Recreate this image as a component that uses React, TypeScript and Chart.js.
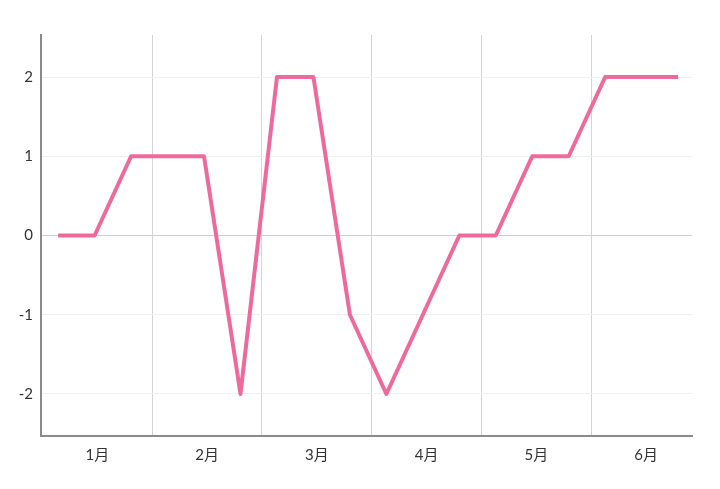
import React, { useEffect, useRef } from "react";
import { Chart, registerables } from "chart.js";

Chart.register(...registerables);

const monthLabels = ["1月", "2月", "3月", "4月", "5月", "6月"];
const seriesValues = [0, 0, 1, 1, 1, -2, 2, 2, -1, -2, -1, 0, 0, 1, 1, 2, 2, 2];
const yTickValues = [-2, -1, 0, 1, 2];

// band model for the month axis, in point-index units
const BAND_START = -0.43;
const BAND_WIDTH = 3.009;
const X_MIN = -0.47;
const X_MAX = 17.38;
const Y_MIN = -2.53;
const Y_MAX = 2.53;

const FONT = "Lato, 'Noto Sans CJK SC', sans-serif";

export default function App() {
  const ref = useRef<HTMLCanvasElement | null>(null);

  useEffect(() => {
    document.body.style.margin = "0";
    const canvas = ref.current;
    if (!canvas) return;

    const xTicks: { value: number }[] = [];
    monthLabels.forEach((_, i) => {
      xTicks.push({ value: BAND_START + BAND_WIDTH * (i + 0.5) });
      if (i < monthLabels.length - 1) xTicks.push({ value: BAND_START + BAND_WIDTH * (i + 1) });
    });

    const chart = new Chart(canvas, {
      type: "line",
      data: {
        datasets: [
          {
            data: seriesValues.map((v, i) => ({ x: i, y: v })),
            borderColor: "#ef6a9c",
            borderWidth: 4,
            borderJoinStyle: "round",
            pointRadius: 0,
            pointHoverRadius: 0,
            tension: 0,
            fill: false,
          },
        ],
      },
      options: {
        animation: false,
        responsive: false,
        events: [],
        layout: { padding: { left: 0, top: 35, right: 28, bottom: 0 } },
        plugins: { legend: { display: false }, tooltip: { enabled: false } },
        scales: {
          x: {
            type: "linear",
            min: X_MIN,
            max: X_MAX,
            afterBuildTicks: (axis: any) => {
              axis.ticks = xTicks.map((t) => ({ ...t }));
            },
            afterFit: (axis: any) => {
              axis.height = 53;
            },
            border: { color: "#8a8a8a", width: 2 },
            grid: {
              drawTicks: false,
              color: (ctx: any) => (ctx.index % 2 === 1 ? "#d4d4d4" : "rgba(0,0,0,0)"),
              lineWidth: 1,
            },
            ticks: {
              autoSkip: false,
              maxRotation: 0,
              padding: 10,
              color: "#333",
              font: { family: FONT, size: 15 },
              callback: (_v: any, index: number) =>
                index % 2 === 0 ? monthLabels[index / 2] : "",
            },
          },
          y: {
            type: "linear",
            min: Y_MIN,
            max: Y_MAX,
            afterBuildTicks: (axis: any) => {
              axis.ticks = yTickValues.map((v) => ({ value: v }));
            },
            afterFit: (axis: any) => {
              axis.width = 41;
            },
            border: { color: "#8a8a8a", width: 2 },
            grid: {
              drawTicks: false,
              color: (ctx: any) => (ctx.tick && ctx.tick.value === 0 ? "#cfcfcf" : "#f0f0f0"),
              lineWidth: 1,
            },
            ticks: {
              padding: 8,
              color: "#333",
              font: { family: FONT, size: 15 },
              callback: (v: any) => String(v),
            },
          },
        },
      },
    });

    return () => chart.destroy();
  }, []);

  return (
    <div style={{ width: 720, height: 489 }}>
      <canvas ref={ref} width={720} height={489} style={{ display: "block" }} />
    </div>
  );
}
